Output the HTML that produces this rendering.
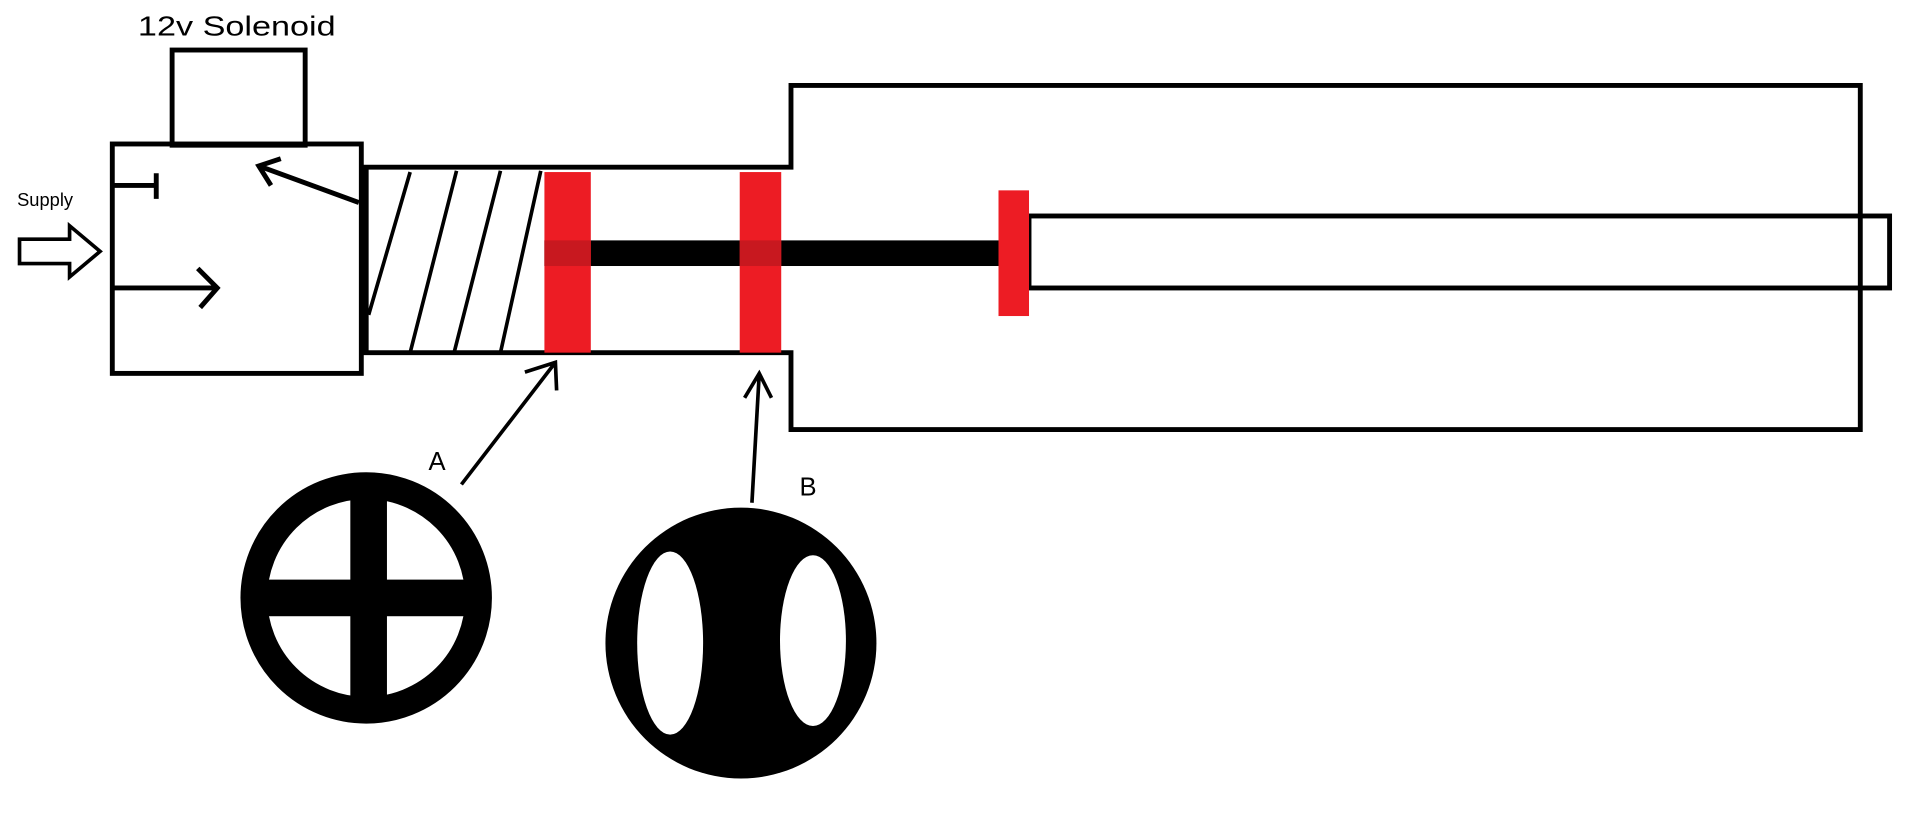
<!DOCTYPE html>
<html><head><meta charset="utf-8"><style>
html,body{margin:0;padding:0;background:#fff;width:1914px;height:820px;overflow:hidden}
svg{display:block}
</style></head><body>
<svg width="1914" height="820" viewBox="0 0 1568 672" preserveAspectRatio="none" xmlns="http://www.w3.org/2000/svg">
<g fill="none" stroke="#000" stroke-width="4">
<rect x="141" y="41" width="109" height="78"/>
<rect x="92" y="118" width="204" height="188"/>
<path d="M92 152 H128 M128 142 V163"/>
<path d="M92 236 H178 M162 220 L178 236 L164 252"/>
<path d="M294 166 L212 136 M222 152 L212 136 L230 130"/>
<path d="M16 196 H57 V185 L82 206 L57 227 V216 H16 Z" stroke-width="3"/>
<path d="M298 137 H648 V70 H1524 V352 H648 V289 H298 Z"/>
<path d="M300 137 V289"/>
<path d="M302 258 L336 141 M336 289 L374 140 M372 289 L410 140 M410 289 L443 140" stroke-width="3"/>
<rect x="843" y="177" width="705" height="59"/>
<path d="M378 397 L455 297 M430 305 L455 297 L456 320" stroke-width="3"/>
<path d="M616 412 L622 306 M610 326 L622 306 L632 326" stroke-width="3"/>
</g>
<rect x="446" y="197" width="372" height="21" fill="#000"/>
<rect x="446" y="141" width="38" height="148" fill="#ed1c24"/>
<rect x="606" y="141" width="34" height="148" fill="#ed1c24"/>
<rect x="818" y="156" width="25" height="103" fill="#ed1c24"/>
<rect x="446" y="197" width="38" height="21" fill="#c8181f"/>
<rect x="606" y="197" width="34" height="21" fill="#c8181f"/>
<circle cx="300" cy="490" r="92" fill="none" stroke="#000" stroke-width="22"/>
<rect x="287" y="398" width="30" height="184" fill="#000"/>
<rect x="208" y="475" width="184" height="30" fill="#000"/>
<circle cx="607" cy="527" r="111" fill="#000"/>
<ellipse cx="549" cy="527" rx="27" ry="75" fill="#fff"/>
<ellipse cx="666" cy="525" rx="27" ry="70" fill="#fff"/>
<g font-family="Liberation Sans, sans-serif" fill="#000">
<text x="113" y="29" font-size="23" textLength="162" lengthAdjust="spacingAndGlyphs">12v Solenoid</text>
<text x="14" y="169" font-size="15">Supply</text>
<text x="351" y="385" font-size="21">A</text>
<text x="655" y="406" font-size="21">B</text>
</g>
</svg>
</body></html>
